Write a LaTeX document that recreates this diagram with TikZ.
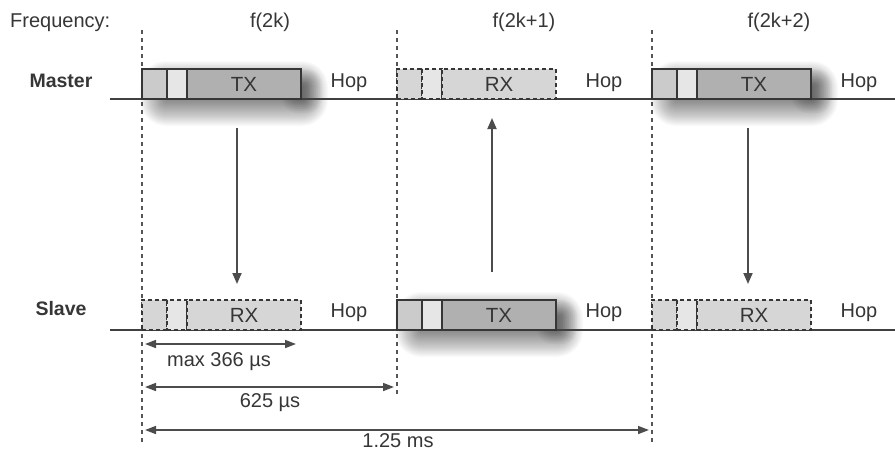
\documentclass[tikz,border=0pt]{standalone}
\usepackage{fontspec}
\setmainfont{Liberation Sans}
\usetikzlibrary{arrows.meta}

\definecolor{ink}{HTML}{363636}
\definecolor{rule}{HTML}{404040}
\definecolor{guide}{HTML}{555555}
\definecolor{arrowc}{HTML}{4C4C4C}
\definecolor{preA}{HTML}{CBCBCB}
\definecolor{preB}{HTML}{E6E6E6}
\definecolor{payTX}{HTML}{B0B0B0}
\definecolor{payRX}{HTML}{D6D6D6}

% soft drop shadow behind a TX slot; argument = bottom-left corner of the slot
\newcommand\txshadow[1]{%
  \begin{scope}[shift={(#1)}]
    \foreach \r in {1,2,...,26}{
      \fill[black,opacity=0.021,rounded corners={\r pt}]
        (24-\r,-12-\r) rectangle (160+\r,1+\r);}
    \foreach \r in {2,4,...,16}{
      \fill[black,opacity=0.03,rounded corners={\r pt}]
        (156-\r,-14-\r) rectangle (164+\r,-2+\r);}
  \end{scope}}

\begin{document}
\begin{tikzpicture}[x=1pt,y=-1pt,
  lbl/.style={font=\fontsize{20}{24}\selectfont, text=ink, inner sep=0},
  rowlbl/.style={font=\fontsize{19.5}{24}\selectfont\bfseries, text=ink, inner sep=0, anchor=base},
  slotbox/.style={line width=1.4pt, draw=ink, inner sep=0, outer sep=0,
    minimum height=30pt, anchor=south west,
    font=\fontsize{20.5}{24}\selectfont, text=ink},
  txA/.style={slotbox, fill=preA, minimum width=25pt},
  txB/.style={slotbox, fill=preB, minimum width=20pt},
  txC/.style={slotbox, fill=payTX, minimum width=114pt},
  rxA/.style={txA, dash pattern=on 4pt off 3pt, fill=payRX},
  rxB/.style={txB, dash pattern=on 4pt off 3pt},
  rxC/.style={txC, dash pattern=on 4pt off 3pt, fill=payRX},
  guideline/.style={draw=guide, line width=1.1pt, dash pattern=on 4pt off 4pt},
  timeline/.style={draw=rule, line width=2.4pt},
  flow/.style={draw=arrowc, line width=1.8pt, -{Triangle[length=11pt,width=9pt]}},
  span/.style={draw=arrowc, line width=1.6pt,
    {Triangle[length=11pt,width=8pt]}-{Triangle[length=11pt,width=8pt]}}
]
\useasboundingbox (0,0) rectangle (895,451);
\fill[white] (0,0) rectangle (895,451);

% slot boundaries
\draw[guideline] (142,30) -- (142,445);
\draw[guideline] (397,30) -- (397,397);
\draw[guideline] (652,30) -- (652,445);

% shadows under transmitting slots
\txshadow{142,99}
\txshadow{397,330}
\txshadow{652,99}

% time axes
\draw[timeline] (110,99) -- (895,99);
\draw[timeline] (110,330) -- (895,330);

% header
\node[lbl, anchor=base west] (freq) at (10,27) {Frequency:};
\node[lbl, anchor=base] (f0) at (270,27) {f(2k)};
\node[lbl, anchor=base] (f1) at (524,27) {f(2k+1)};
\node[lbl, anchor=base] (f2) at (779,27) {f(2k+2)};

\node[rowlbl] (master) at (61,87) {Master};
\node[rowlbl] (slave) at (61,315) {Slave};

% master slots
\node[txA] (m0a) at (142,99) {};
\node[txB] (m0b) at (167,99) {};
\node[txC] (m0c) at (187,99) {TX};
\node[rxA] (m1a) at (397,99) {};
\node[rxB] (m1b) at (422,99) {};
\node[rxC] (m1c) at (442,99) {RX};
\node[txA] (m2a) at (652,99) {};
\node[txB] (m2b) at (677,99) {};
\node[txC] (m2c) at (697,99) {TX};

% slave slots
\node[rxA] (s0a) at (142,330) {};
\node[rxB] (s0b) at (167,330) {};
\node[rxC] (s0c) at (187,330) {RX};
\node[txA] (s1a) at (397,330) {};
\node[txB] (s1b) at (422,330) {};
\node[txC] (s1c) at (442,330) {TX};
\node[rxA] (s2a) at (652,330) {};
\node[rxB] (s2b) at (677,330) {};
\node[rxC] (s2c) at (697,330) {RX};

% hop labels
\node[lbl, anchor=base] (hm0) at (349,87) {Hop};
\node[lbl, anchor=base] (hm1) at (604,87) {Hop};
\node[lbl, anchor=base] (hm2) at (859,87) {Hop};
\node[lbl, anchor=base] (hs0) at (349,317) {Hop};
\node[lbl, anchor=base] (hs1) at (604,317) {Hop};
\node[lbl, anchor=base] (hs2) at (859,317) {Hop};

% transfers between master and slave
\coordinate (d0top) at (237,128);
\coordinate (d0bot) at (237,284);
\coordinate (u1bot) at (492,272);
\coordinate (u1top) at (492,118);
\coordinate (d2top) at (748,128);
\coordinate (d2bot) at (748,284);
\draw[flow] (d0top) -- (d0bot);
\draw[flow] (u1bot) -- (u1top);
\draw[flow] (d2top) -- (d2bot);

% timing dimensions
\coordinate (t0a) at (145,344);
\coordinate (t0b) at (296,344);
\coordinate (t1a) at (145,387);
\coordinate (t1b) at (394,387);
\coordinate (t2a) at (145,430);
\coordinate (t2b) at (649,430);
\draw[span] (t0a) -- (t0b);
\draw[span] (t1a) -- (t1b);
\draw[span] (t2a) -- (t2b);
\node[lbl, anchor=base] (dim0) at (219,366) {max 366 µs};
\node[lbl, anchor=base] (dim1) at (270,407) {625 µs};
\node[lbl, anchor=base] (dim2) at (398,447) {1.25 ms};
\end{tikzpicture}
\end{document}
